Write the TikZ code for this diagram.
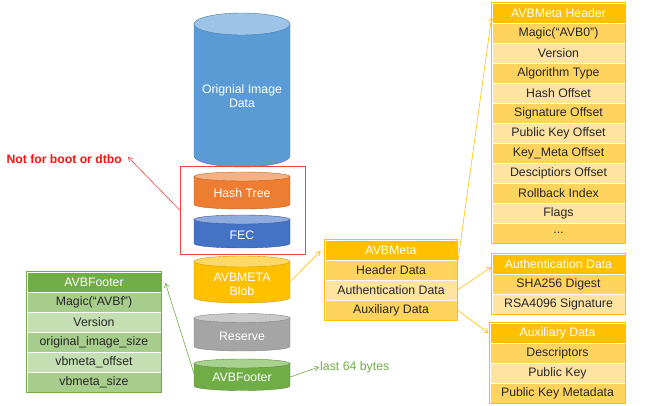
\documentclass[tikz,border=0pt]{standalone}
\usepackage{fontspec}
\setmainfont{Liberation Sans}
\usetikzlibrary{arrows.meta}
\definecolor{ylw}{HTML}{FFC000}
\definecolor{ylwA}{HTML}{FFD45E}
\definecolor{ylwB}{HTML}{FFE3A0}
\definecolor{grn}{HTML}{70AD47}
\definecolor{grnA}{HTML}{A6CD8B}
\definecolor{grnB}{HTML}{C4DFB2}
\definecolor{rd}{HTML}{F04444}
\definecolor{rdtxt}{HTML}{FF1010}
\definecolor{cblue}{HTML}{5B9BD5}
\definecolor{cblueT}{HTML}{9DC3E6}
\definecolor{corg}{HTML}{ED7D31}
\definecolor{corgT}{HTML}{F4B183}
\definecolor{cfec}{HTML}{4472C4}
\definecolor{cfecT}{HTML}{8FAADC}
\definecolor{cylw}{HTML}{FFC000}
\definecolor{cylwT}{HTML}{FFD966}
\definecolor{cgry}{HTML}{A5A5A5}
\definecolor{cgryT}{HTML}{C9C9C9}
\definecolor{cgrn}{HTML}{70AD47}
\definecolor{cgrnT}{HTML}{A9D18E}
\newcommand\cylshape[5]{%
  \filldraw[fill=#4, draw=#4!80!black, line width=0.4pt] (194,#1) -- (194,#2)
     arc[start angle=180, end angle=360, x radius=48pt, y radius=#3pt] -- (290,#1) -- cycle;
  \filldraw[fill=#5, draw=#4!80!black, line width=0.4pt] (242,#1) ellipse[x radius=48pt, y radius=#3pt];
}
\tikzset{
  txt/.style={font=\fontsize{12.3}{14.5}\selectfont},
  cell/.style={txt, draw=white, line width=0.8pt, minimum height=20pt, inner sep=0pt, text=black!85},
  yh/.style={cell, fill=ylw, text=white},
  ya/.style={cell, fill=ylwA},
  yb/.style={cell, fill=ylwB},
  gh/.style={cell, fill=grn, text=white},
  ga/.style={cell, fill=grnA},
  gb/.style={cell, fill=grnB},
  ctext/.style={txt, text=white, align=center, minimum width=96pt, inner sep=0pt},
  yarr/.style={draw=ylw, line width=0.6pt, -{Straight Barb[length=4pt,width=5pt]}},
  garr/.style={draw=grn, line width=0.6pt, -{Straight Barb[length=4pt,width=5pt]}},
  rarr/.style={draw=rd, line width=0.6pt, -{Straight Barb[length=4pt,width=5pt]}},
}
\begin{document}
\begin{tikzpicture}[x=1pt,y=-1pt]
\useasboundingbox (0,0) rectangle (650,406);

% cylinders
\cylshape{24}{156}{11}{cblue}{cblueT}
\cylshape{176.5}{204.5}{4.5}{corg}{corgT}
\cylshape{219.5}{243.5}{4.5}{cfec}{cfecT}
\cylshape{261.5}{297.5}{5.5}{cylw}{cylwT}
\cylshape{318}{346.5}{4.5}{cgry}{cgryT}
\cylshape{363.5}{386}{4.5}{cgrn}{cgrnT}
\node[ctext] (orig) at (242,96) {Orignial Image\\Data};
\node[ctext] (hash) at (242,193) {Hash Tree};
\node[ctext] (fec) at (242,235) {FEC};
\node[ctext] (blob) at (242,284.5) {AVBMETA\\Blob};
\node[ctext] (res) at (242,336) {Reserve};
\node[ctext] (foot) at (242,377) {AVBFooter};

% red box
\node[draw=rd, line width=0.7pt, minimum width=125pt, minimum height=88pt, inner sep=0pt] (redbox) at (242.5,210) {};
\node[txt, text=rdtxt, font=\fontsize{12.2}{14}\selectfont\bfseries, anchor=east, inner sep=0pt] (notboot) at (122,159) {Not for boot or dtbo};

% AVBMeta Header table
\node[yh, minimum width=133pt] (mh0) at (558.5,13) {AVBMeta Header};
\node[ya, minimum width=133pt] (mh1) at (558.5,33) {Magic(“AVB0”)};
\node[yb, minimum width=133pt] (mh2) at (558.5,53) {Version};
\node[ya, minimum width=133pt] (mh3) at (558.5,73) {Algorithm Type};
\node[yb, minimum width=133pt] (mh4) at (558.5,93) {Hash Offset};
\node[ya, minimum width=133pt] (mh5) at (558.5,113) {Signature Offset};
\node[yb, minimum width=133pt] (mh6) at (558.5,133) {Public Key Offset};
\node[ya, minimum width=133pt] (mh7) at (558.5,153) {Key\_Meta Offset};
\node[yb, minimum width=133pt] (mh8) at (558.5,173) {Desciptiors Offset};
\node[ya, minimum width=133pt] (mh9) at (558.5,193) {Rollback Index};
\node[yb, minimum width=133pt] (mh10) at (558.5,213) {Flags};
\node[ya, minimum width=133pt] (mh11) at (558.5,233) {...};
\draw[ylw, line width=0.6pt] (mh0.north west) rectangle (mh11.south east);

% Authentication Data table
\node[yh, minimum width=133pt] (ah0) at (558.5,264) {Authentication Data};
\node[ya, minimum width=133pt] (ah1) at (558.5,284) {SHA256 Digest};
\node[yb, minimum width=133pt] (ah2) at (558.5,304) {RSA4096 Signature};
\draw[ylw, line width=0.6pt] (ah0.north west) rectangle (ah2.south east);

% Auxiliary Data table
\node[yh, minimum width=135pt] (xh0) at (557.5,333) {Auxiliary Data};
\node[ya, minimum width=135pt] (xh1) at (557.5,353) {Descriptors};
\node[yb, minimum width=135pt] (xh2) at (557.5,373) {Public Key};
\node[ya, minimum width=135pt] (xh3) at (557.5,393) {Public Key Metadata};
\draw[ylw, line width=0.6pt] (xh0.north west) rectangle (xh3.south east);

% AVBMeta table
\node[yh, minimum width=132pt] (am0) at (391,250) {AVBMeta};
\node[ya, minimum width=132pt] (am1) at (391,270) {Header Data};
\node[yb, minimum width=132pt] (am2) at (391,290) {Authentication Data};
\node[ya, minimum width=132pt] (am3) at (391,310) {Auxiliary Data};
\draw[ylw, line width=0.6pt] (am0.north west) rectangle (am3.south east);

% AVBFooter table
\node[gh, minimum width=134pt] (f0) at (94,282) {AVBFooter};
\node[ga, minimum width=134pt] (f1) at (94,302) {Magic(“AVBf”)};
\node[gb, minimum width=134pt] (f2) at (94,322) {Version};
\node[ga, minimum width=134pt] (f3) at (94,342) {original\_image\_size};
\node[gb, minimum width=134pt] (f4) at (94,362) {vbmeta\_offset};
\node[ga, minimum width=134pt] (f5) at (94,382) {vbmeta\_size};
\draw[grn, line width=0.6pt] (f0.north west) rectangle (f5.south east);

\node[txt, text=grn, anchor=west, inner sep=0pt] (last) at (320,367) {last 64 bytes};

% connectors
\draw[rarr] (redbox.west) -- ([xshift=6pt,yshift=2pt]notboot.east);
\draw[yarr] ([yshift=3pt]blob.east) -- ([xshift=-4pt,yshift=-1pt]am0.west);
\draw[yarr] ([yshift=5pt]am1.east) -- ([yshift=-4pt]mh0.west);
\draw[yarr] (am2.east) -- ([yshift=-3pt]ah0.west);
\draw[yarr] (am3.east) -- ([xshift=-1pt]xh0.west);
\draw[garr] ([yshift=4pt]foot.west) -- ([xshift=4pt,yshift=-1pt]f0.east);
\draw[garr] (foot.east) -- ([xshift=-1pt]last.west);
\end{tikzpicture}
\end{document}
